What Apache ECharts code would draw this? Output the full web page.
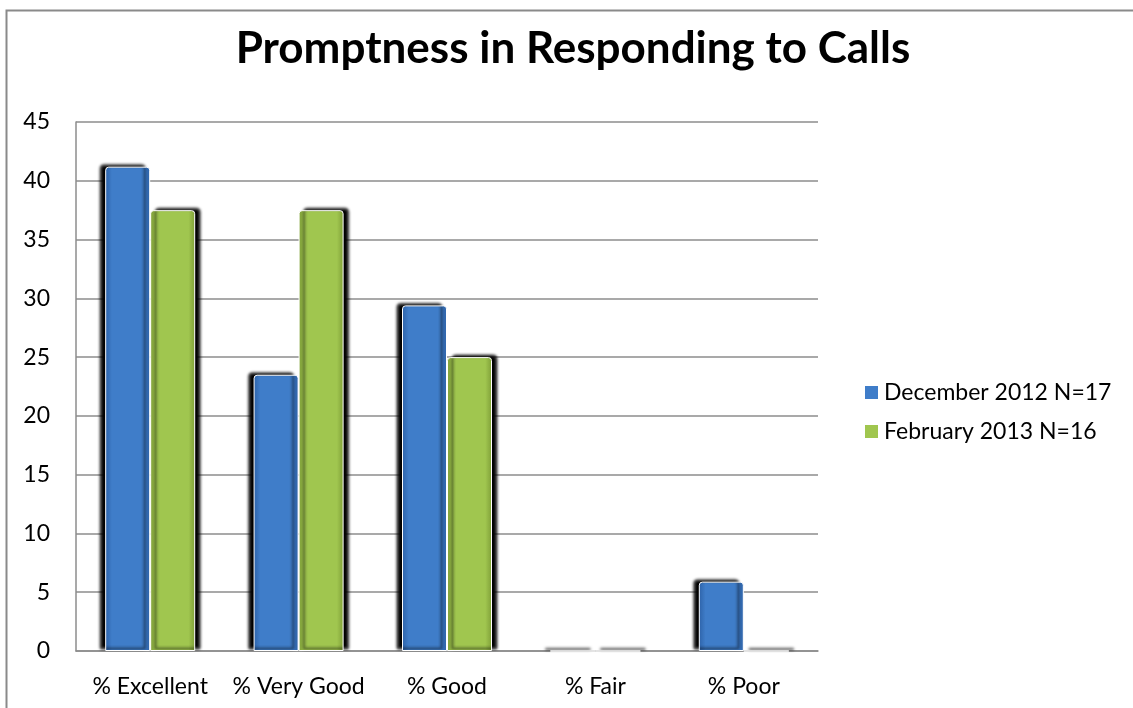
<!DOCTYPE html>
<html>
<head>
<meta charset="utf-8">
<script src="https://cdn.jsdelivr.net/npm/echarts@6/dist/echarts.min.js"></script>
<style>
html,body{margin:0;padding:0;background:#fff;}
#chart{width:1133px;height:708px;}
</style>
</head>
<body>
<div id="chart"></div>
<script>
const categories = ['% Excellent', '% Very Good', '% Good', '% Fair', '% Poor'];
const dec2012 = [41.2, 23.5, 29.4, 0, 5.9];
const feb2013 = [37.5, 37.5, 25, 0, 0];
const seriesNames = ['December 2012 N=17', 'February 2013 N=16'];
const yTicks = [0, 5, 10, 15, 20, 25, 30, 35, 40, 45];

const FONT = 'Lato, "Open Sans", sans-serif';

function grad(edge, mid) {
  return new echarts.graphic.LinearGradient(0, 0, 1, 0, [
    {offset: 0, color: edge},
    {offset: 0.15, color: mid},
    {offset: 0.85, color: mid},
    {offset: 1, color: edge}
  ]);
}

const chart = echarts.init(document.getElementById('chart'));
chart.setOption({
  animation: false,
  backgroundColor: '#ffffff',
  title: {
    text: 'Promptness in Responding to Calls',
    left: 568,
    textAlign: 'center',
    top: 22,
    textStyle: {fontFamily: FONT, fontWeight: 'bold', fontSize: 44, color: '#000'}
  },
  graphic: [{
    type: 'rect',
    shape: {x: 6.5, y: 10.5, width: 1300, height: 900},
    style: {fill: 'none', stroke: '#8a8a8a', lineWidth: 2},
    silent: true
  }],
  legend: {
    orient: 'vertical',
    left: 858,
    top: 376,
    itemWidth: 15,
    itemHeight: 15,
    itemGap: 16,
    icon: 'rect',
    textStyle: {fontFamily: FONT, fontSize: 23, color: '#000'},
    data: seriesNames
  },
  grid: {left: 76, right: 315, top: 122, bottom: 57, containLabel: false},
  xAxis: {
    type: 'category',
    data: categories,
    axisTick: {show: false},
    axisLine: {lineStyle: {color: '#8c8c8c', width: 1.5}},
    axisLabel: {fontFamily: FONT, fontSize: 23, color: '#000', margin: 24, interval: 0}
  },
  yAxis: {
    type: 'value',
    min: 0, max: 45, interval: 5,
    axisLine: {show: true, lineStyle: {color: '#8c8c8c', width: 1.5}},
    axisTick: {show: false},
    splitLine: {lineStyle: {color: '#8c8c8c', width: 1.5}},
    axisLabel: {fontFamily: FONT, fontSize: 23, color: '#000', margin: 26,
      formatter: v => yTicks.includes(v) ? String(v) : ''}
  },
  series: [
    {
      name: seriesNames[0], type: 'bar', data: dec2012,
      barWidth: 45, barGap: '0%',
      itemStyle: {
        color: grad('#2d62a8', '#3f7dc9'),
        borderColor: '#ffffff', borderWidth: 1,
        borderRadius: [3, 3, 0, 0],
        shadowColor: '#000', shadowBlur: 3, shadowOffsetX: -5, shadowOffsetY: -2
      }
    },
    {
      name: seriesNames[1], type: 'bar', data: feb2013,
      barWidth: 45,
      itemStyle: {
        color: grad('#7f9f38', '#a0c64f'),
        borderColor: '#ffffff', borderWidth: 1,
        borderRadius: [3, 3, 0, 0],
        shadowColor: '#000', shadowBlur: 3, shadowOffsetX: 5, shadowOffsetY: -2
      }
    }
  ]
});
</script>
</body>
</html>
